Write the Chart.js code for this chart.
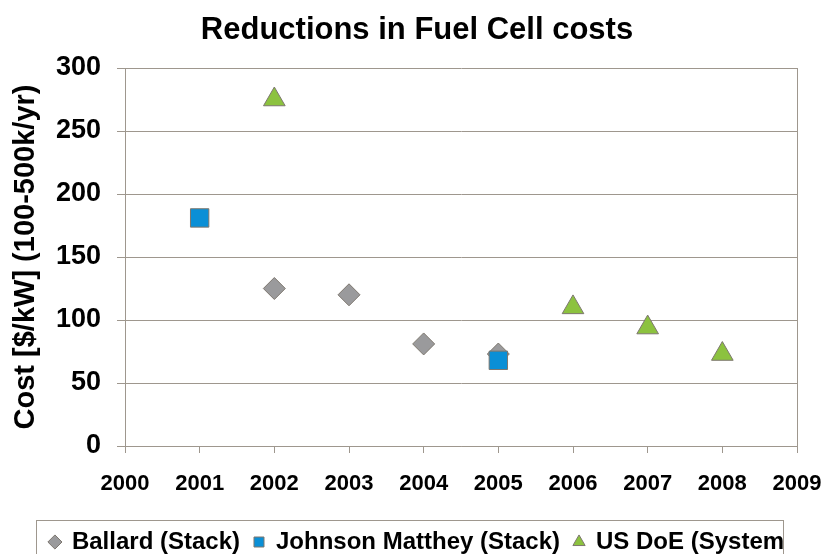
<!DOCTYPE html>
<html>
<head>
<meta charset="utf-8">
<script src="https://cdn.jsdelivr.net/npm/chart.js@4"></script>
<style>
  html, body { margin: 0; padding: 0; background: #fff; overflow: hidden; }
  #wrap { position: relative; width: 825px; height: 564px; }
</style>
</head>
<body>
<div id="wrap"><canvas id="chart"></canvas></div>
<script>
// Data
const ballardYears = [2002, 2003, 2004, 2005];
const ballardCost = [125, 120, 81, 73];
const jmYears = [2001, 2005];
const jmCost = [181, 68];
const doeYears = [2002, 2006, 2007, 2008];
const doeCost = [275, 110, 94, 73];

const seriesNames = ['Ballard (Stack)', 'Johnson Matthey (Stack)', 'US DoE (System'];
const yearMin = 2000, yearMax = 2009;
const costMin = 0, costMax = 300, costStep = 50;

const FONT = 'Arial, "Liberation Sans", sans-serif';
const LINE = '#9e978e';
const EDGE = '#7d776f';

const toPoints = (xs, ys) => xs.map((x, i) => ({ x: x, y: ys[i] }));

// draws the frame round the legend, sized from the legend's own hitboxes
const legendFrame = {
    id: 'legendFrame',
    afterDraw(chart) {
        const boxes = chart.legend.legendHitBoxes;
        if (!boxes || !boxes.length) return;
        const first = boxes[0];
        const last = boxes[boxes.length - 1];
        const ctx = chart.ctx;
        const left = first.left - 14;
        const right = last.left + last.width - 1;
        const top = first.top + first.height / 2 - 22;
        ctx.save();
        ctx.strokeStyle = LINE;
        ctx.lineWidth = 1;
        ctx.strokeRect(Math.round(left) + 0.5, Math.round(top) + 0.5, Math.round(right - left), chart.height);
        ctx.restore();
    }
};

new Chart(document.getElementById('chart'), {
    type: 'scatter',
    data: {
        datasets: [
            {
                label: seriesNames[0],
                data: toPoints(ballardYears, ballardCost),
                pointStyle: 'rectRot',
                pointRadius: 11,
                backgroundColor: '#9a9a9c',
                borderColor: EDGE,
                borderWidth: 1,
                order: 2
            },
            {
                label: seriesNames[1],
                data: toPoints(jmYears, jmCost),
                pointStyle: 'rect',
                pointRadius: 13,
                backgroundColor: '#0a8fd6',
                borderColor: EDGE,
                borderWidth: 1,
                order: 1
            },
            {
                label: seriesNames[2],
                data: toPoints(doeYears, doeCost),
                pointStyle: 'triangle',
                pointRadius: 12.5,
                backgroundColor: '#8cc23f',
                borderColor: EDGE,
                borderWidth: 1,
                order: 0
            }
        ]
    },
    options: {
        responsive: true,
        maintainAspectRatio: false,
        animation: false,
        events: [],
        layout: { padding: { left: 9, right: 0, top: 0, bottom: 0 } },
        plugins: {
            title: {
                display: true,
                text: 'Reductions in Fuel Cell costs',
                color: '#000',
                font: { family: FONT, size: 31, weight: 'bold' },
                padding: { top: 12, bottom: 18.8 }
            },
            legend: {
                position: 'bottom',
                labels: {
                    usePointStyle: true,
                    boxWidth: 10,
                    boxHeight: 10,
                    padding: 14,
                    color: '#000',
                    font: { family: FONT, size: 24, weight: 'bold' },
                    sort: (a, b) => a.datasetIndex - b.datasetIndex
                }
            },
            tooltip: { enabled: false }
        },
        scales: {
            x: {
                type: 'linear',
                min: yearMin,
                max: yearMax,
                afterFit(scale) {
                    scale.height = 70;
                    scale.paddingLeft = 0;
                    scale.paddingRight = 28;
                },
                ticks: {
                    stepSize: 1,
                    padding: 18,
                    color: '#000',
                    font: { family: FONT, size: 22, weight: 'bold' },
                    callback: v => String(v)
                },
                grid: {
                    drawOnChartArea: true,
                    color: c => (c.tick && c.tick.value === yearMax ? LINE : 'rgba(0,0,0,0)'),
                    tickColor: LINE,
                    tickLength: 7
                },
                border: { color: LINE, width: 1 }
            },
            y: {
                min: costMin,
                max: costMax,
                afterFit(scale) { scale.width = 116; },
                ticks: {
                    stepSize: costStep,
                    padding: 16,
                    color: '#000',
                    font: { family: FONT, size: 27, weight: 'bold' }
                },
                grid: {
                    color: LINE,
                    tickColor: LINE,
                    tickLength: 8
                },
                border: { color: LINE, width: 1 },
                title: {
                    display: true,
                    text: 'Cost [$/kW] (100-500k/yr)',
                    color: '#000',
                    font: { family: FONT, size: 29, weight: 'bold' },
                    padding: { top: 0, bottom: 0 }
                }
            }
        }
    },
    plugins: [legendFrame]
});
</script>
</body>
</html>
